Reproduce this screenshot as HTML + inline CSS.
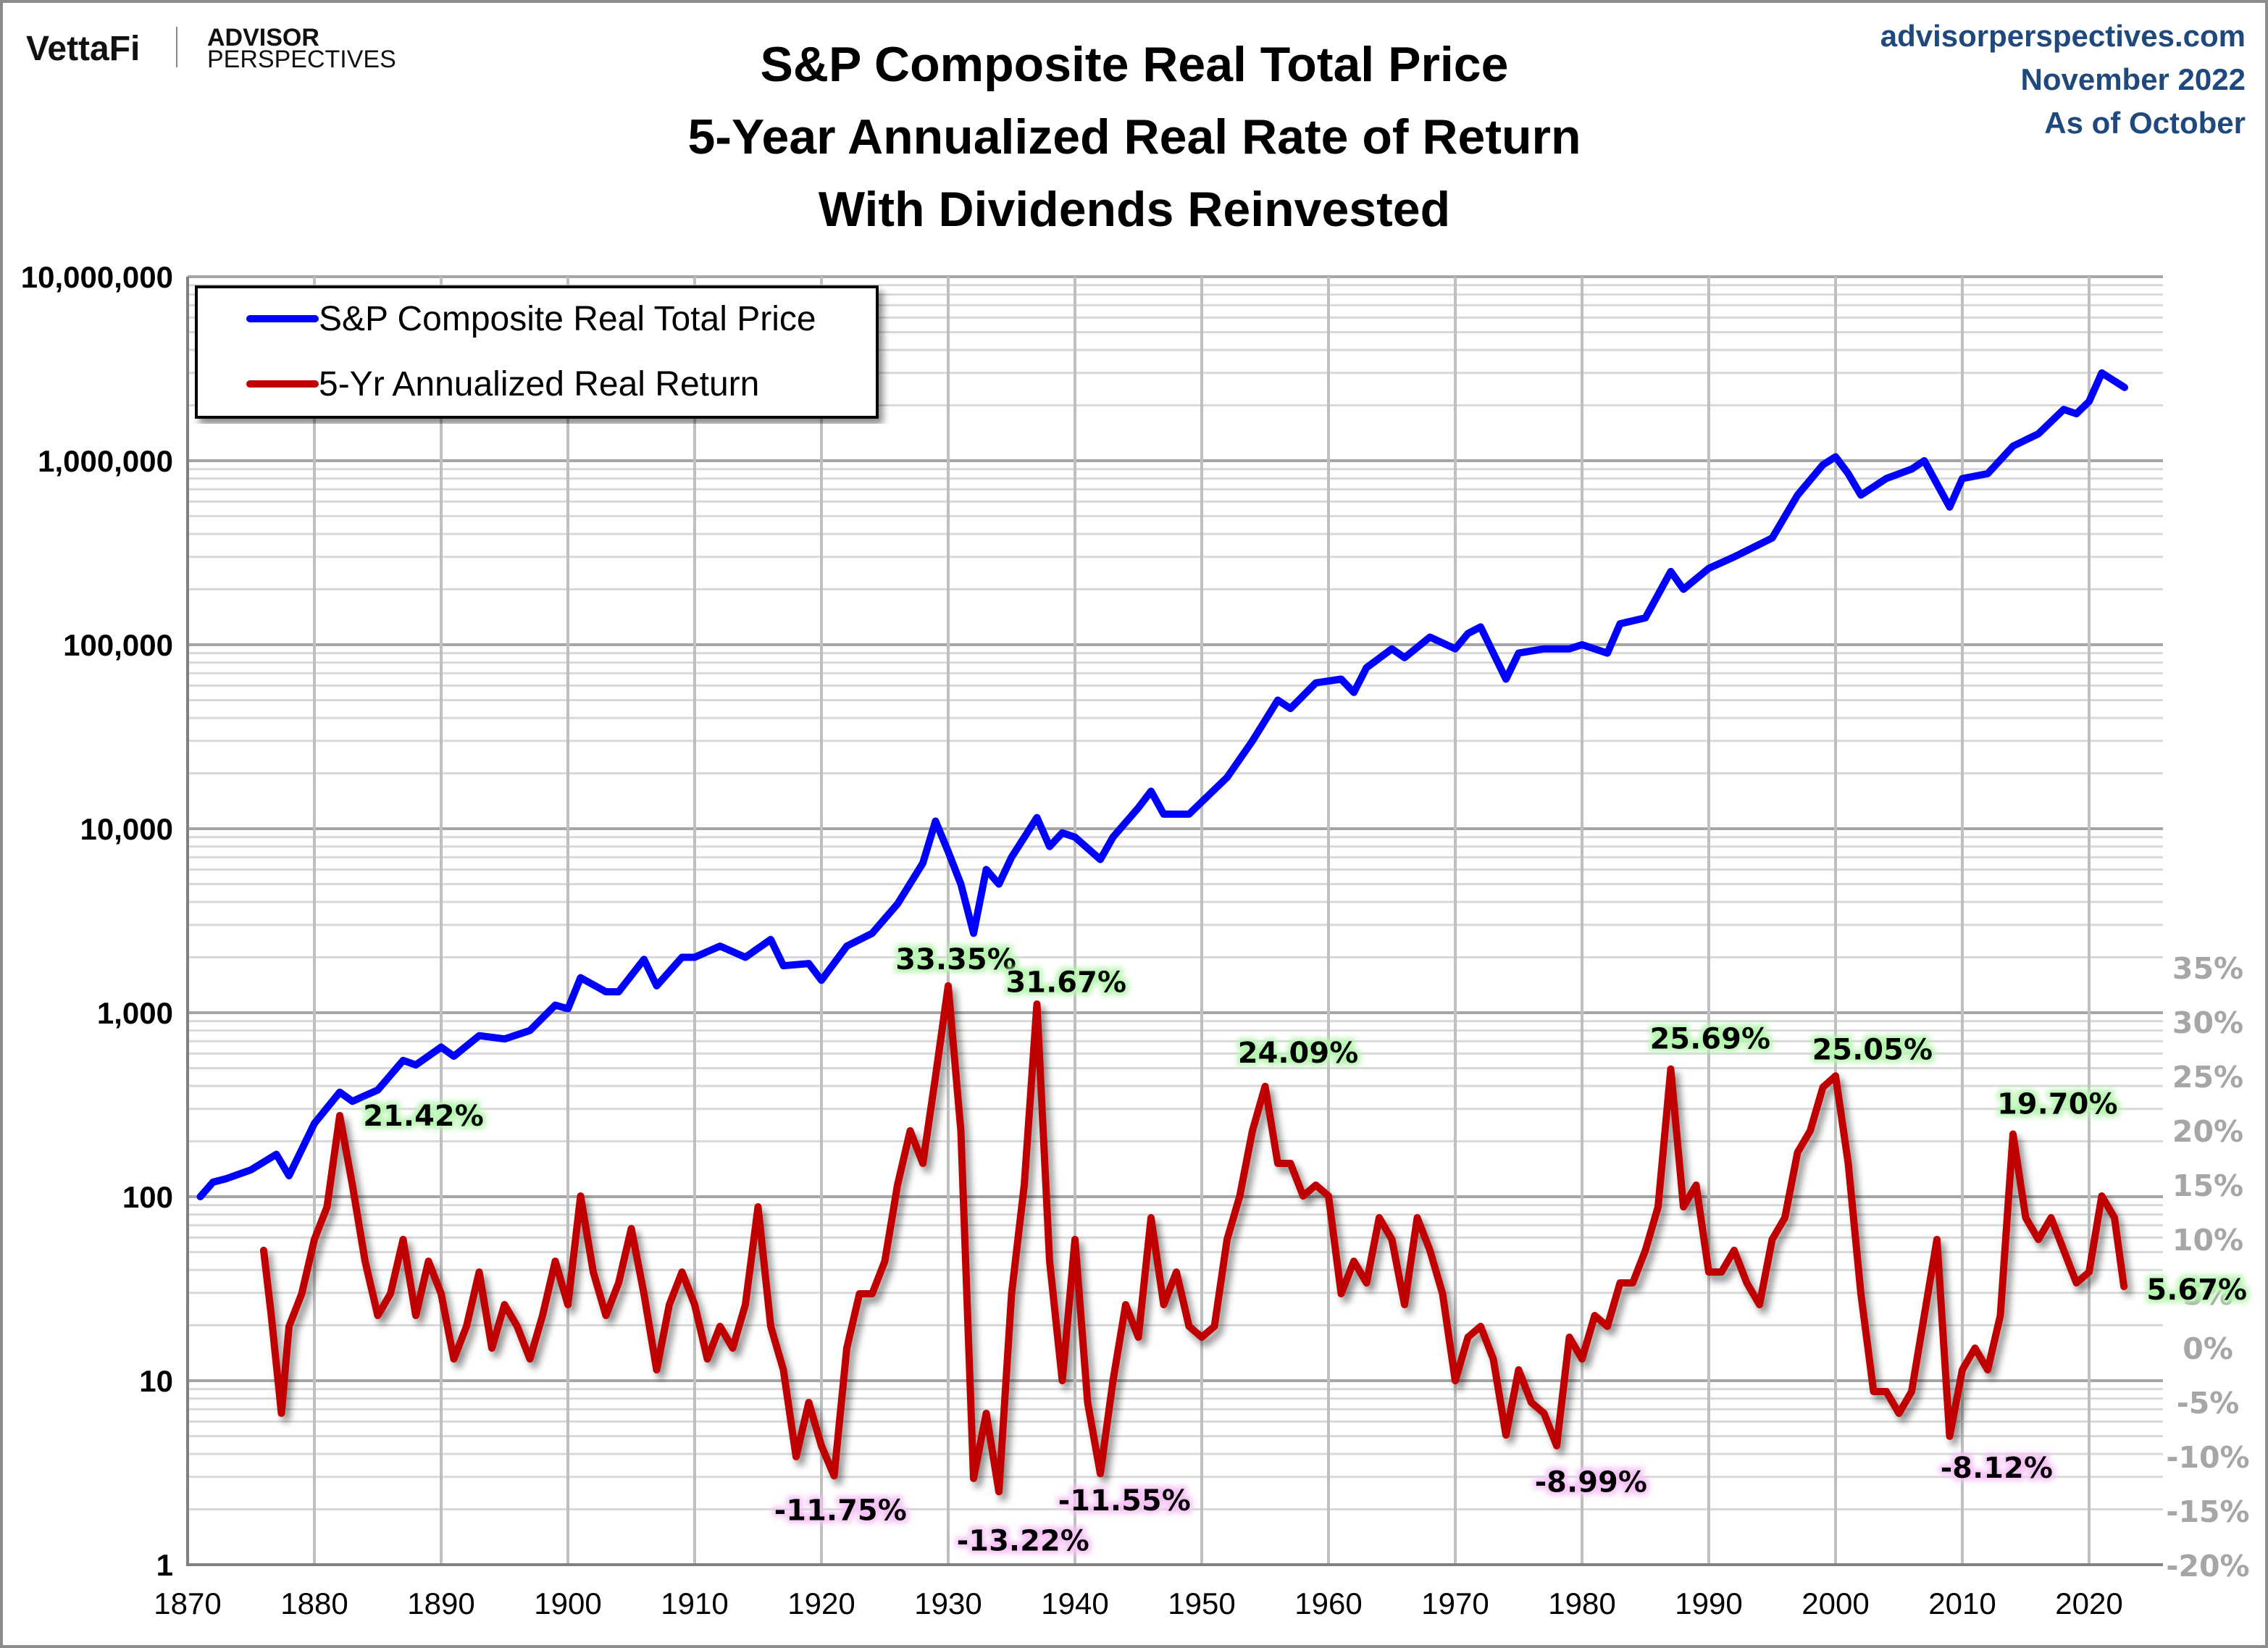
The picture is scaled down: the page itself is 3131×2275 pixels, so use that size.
<!DOCTYPE html>
<html><head><meta charset="utf-8"><style>
html,body{margin:0;padding:0;background:#fff;}
body{width:3131px;height:2275px;overflow:hidden;position:relative;font-family:"Liberation Sans",sans-serif;}
</style></head><body>
<svg id="chart" width="3131" height="2275" xmlns="http://www.w3.org/2000/svg" style="position:absolute;left:0;top:0">
<defs>
<filter id="sh" x="-5%" y="-5%" width="110%" height="110%"><feGaussianBlur in="SourceAlpha" stdDeviation="5"/><feOffset dx="6" dy="8"/><feComponentTransfer><feFuncA type="linear" slope="0.45"/></feComponentTransfer><feMerge><feMergeNode/><feMergeNode in="SourceGraphic"/></feMerge></filter>
<filter id="glowG" x="-10%" y="-30%" width="120%" height="160%"><feMorphology in="SourceAlpha" operator="dilate" radius="4" result="d"/><feGaussianBlur in="d" stdDeviation="4" result="b"/><feFlood flood-color="#b6f5b0"/><feComposite in2="b" operator="in"/><feMerge><feMergeNode/><feMergeNode in="SourceGraphic"/></feMerge></filter>
<filter id="glowP" x="-10%" y="-30%" width="120%" height="160%"><feMorphology in="SourceAlpha" operator="dilate" radius="4" result="d"/><feGaussianBlur in="d" stdDeviation="4" result="b"/><feFlood flood-color="#f5c2f5"/><feComposite in2="b" operator="in"/><feMerge><feMergeNode/><feMergeNode in="SourceGraphic"/></feMerge></filter>
</defs>
<rect x="2" y="2" width="3127" height="2271" fill="#fff" stroke="#8c8c8c" stroke-width="4"/>
<g>
<text x="36" y="83" font-family="Liberation Sans, sans-serif" font-weight="bold" font-size="48" fill="#111">VettaFi</text>
<line x1="244" y1="37" x2="244" y2="93" stroke="#888" stroke-width="2"/>
<text x="286" y="63" font-weight="bold" font-size="34" fill="#111">ADVISOR</text>
<text x="286" y="93" font-size="34" fill="#111">PERSPECTIVES</text>
</g>
<g font-family="Liberation Sans, sans-serif" font-weight="bold" font-size="68" fill="#000" text-anchor="middle">
<text x="1566" y="112">S&amp;P Composite Real Total Price</text>
<text x="1566" y="212">5-Year Annualized Real Rate of Return</text>
<text x="1566" y="312">With Dividends Reinvested</text>
</g>
<g font-family="Liberation Sans, sans-serif" font-weight="bold" font-size="42" fill="#1f497d" text-anchor="end">
<text x="3100" y="64">advisorperspectives.com</text>
<text x="3100" y="124">November 2022</text>
<text x="3100" y="184">As of October</text>
</g>
<g id="grid"></g>
<g id="axes"></g>
<g id="series"></g>
<g id="labels"></g>
<g filter="url(#sh)">
<rect x="271" y="396" width="940" height="180" fill="#fff" stroke="#000" stroke-width="4"/>
</g>
<g>
<line x1="345" y1="440" x2="435" y2="440" stroke="#0000ff" stroke-width="10" stroke-linecap="round"/>
<text x="440" y="456" font-size="48" fill="#000">S&amp;P Composite Real Total Price</text>
</g>
<g>
<line x1="345" y1="530" x2="435" y2="530" stroke="#c00000" stroke-width="10" stroke-linecap="round"/>
<text x="440" y="546" font-size="48" fill="#000">5-Yr Annualized Real Return</text>
</g>
</svg>
<script>
const priceYears=[1871,1872,1873,1875,1877,1878,1880,1882,1883,1885,1887,1888,1890,1891,1893,1895,1897,1899,1900,1901,1903,1904,1906,1907,1909,1910,1912,1914,1916,1917,1919,1920,1922,1924,1926,1928,1929,1930,1931,1932,1933,1934,1935,1937,1938,1939,1940,1942,1943,1945,1946,1947,1949,1950,1952,1954,1956,1957,1959,1961,1962,1963,1965,1966,1968,1970,1971,1972,1973,1974,1975,1977,1979,1980,1982,1983,1985,1987,1988,1990,1992,1995,1997,1999,2000,2001,2002,2004,2006,2007,2009,2010,2012,2014,2016,2018,2019,2020,2021,2022.8];
const priceValues=[100,120,125,140,170,130,250,370,330,380,550,520,650,580,750,720,800,1100,1050,1550,1300,1300,1950,1400,2000,2000,2300,2000,2500,1800,1850,1500,2300,2700,3900,6500,11000,7500,5000,2700,6000,5000,7000,11500,8000,9500,9000,6800,9000,13000,16000,12000,12000,14000,19000,30000,50000,45000,62000,65000,55000,75000,95000,85000,110000,95000,115000,125000,90000,65000,90000,95000,95000,100000,90000,130000,140000,250000,200000,260000,300000,380000,650000,950000,1050000,850000,650000,800000,900000,1000000,560000,800000,850000,1200000,1400000,1900000,1800000,2100000,3000000,2500000];
const retYears=[1876,1876.6,1877.4,1878,1879,1880,1881,1882,1883,1884,1885,1886,1887,1888,1889,1890,1891,1892,1893,1894,1895,1896,1897,1898,1899,1900,1901,1902,1903,1904,1905,1906,1907,1908,1909,1910,1911,1912,1913,1914,1915,1916,1917,1918,1919,1920,1921,1922,1923,1924,1925,1926,1927,1928,1929,1930,1931,1932,1933,1934,1935,1936,1937,1938,1939,1940,1941,1942,1943,1944,1945,1946,1947,1948,1949,1950,1951,1952,1953,1954,1955,1956,1957,1958,1959,1960,1961,1962,1963,1964,1965,1966,1967,1968,1969,1970,1971,1972,1973,1974,1975,1976,1977,1978,1979,1980,1981,1982,1983,1984,1985,1986,1987,1988,1989,1990,1991,1992,1993,1994,1995,1996,1997,1998,1999,2000,2001,2002,2003,2004,2005,2006,2007,2008,2009,2010,2011,2012,2013,2014,2015,2016,2017,2018,2019,2020,2021,2022,2022.75];
const retValues=[9,3,-6,2,5,10,13,21.4,15,8,3,5,10,3,8,5,-1,2,7,0,4,2,-1,3,8,4,14,7,3,6,11,5,-2,4,7,4,-1,2,0,4,13,2,-2,-10,-5,-9,-11.75,0,5,5,8,15,20,17,25,33.35,20,-12,-6,-13.22,5,15,31.67,8,-3,10,-5,-11.55,-3,4,1,12,4,7,2,1,2,10,14,20,24.09,17,17,14,15,14,5,8,6,12,10,4,12,9,5,-3,1,2,-1,-8,-2,-5,-6,-8.99,1,-1,3,2,6,6,9,13,25.69,13,15,7,7,9,6,4,10,12,18,20,24,25.05,17,5,-4,-4,-6,-4,3,10,-8.12,-2,0,-2,3,19.7,12,10,12,9,6,7,14,12,5.67];
const xTicks=[1870,1880,1890,1900,1910,1920,1930,1940,1950,1960,1970,1980,1990,2000,2010,2020];
const yTickLabels=["1","10","100","1,000","10,000","100,000","1,000,000","10,000,000"];
const pctTicks=[-20,-15,-10,-5,0,5,10,15,20,25,30,35];
const peakLabels=["21.42%","33.35%","31.67%","24.09%","25.69%","25.05%","19.70%","5.67%"];
const peakYears=[1888.6,1930.6,1939.3,1957.6,1990.1,2002.9,2017.5,2028.5];
const peakPcts=[21.4,35.8,33.7,27.2,28.5,27.5,22.5,5.4];
const troughLabels=["-11.75%","-13.22%","-11.55%","-8.99%","-8.12%"];
const troughYears=[1921.5,1935.9,1943.9,1980.7,2012.7];
const troughPcts=[-14.9,-17.7,-14,-12.3,-11];

const NS="http://www.w3.org/2000/svg";
const L=259,R=2986,T=382,B=2160;
const xS=y=>L+(y-1870)*(175/10);
const yLog=v=>B-Math.log10(v)*254;
const yPct=p=>1861-p*15;
function el(tag,attrs,parent){const e=document.createElementNS(NS,tag);for(const k in attrs)e.setAttribute(k,attrs[k]);parent.appendChild(e);return e;}
const grid=document.getElementById('grid'),axes=document.getElementById('axes'),series=document.getElementById('series'),labels=document.getElementById('labels');
for(let d=0;d<7;d++){for(let m=2;m<=9;m++){const l=el('line',{x1:L,x2:R,y1:yLog(m*Math.pow(10,d)),y2:yLog(m*Math.pow(10,d)),stroke:'#d9d9d9','stroke-width':3},grid);

}}
yTickLabels.forEach((t,i)=>{const y=yLog(Math.pow(10,i));
const g=el('line',{x1:L,x2:R,y1:y,y2:y,stroke:'#a6a6a6','stroke-width':4},grid);


const tx=el('text',{x:L-20,y:y+15,'text-anchor':'end','font-size':42,'font-weight':'bold',fill:'#000'},axes);tx.textContent=t;

});
xTicks.forEach(t=>{const x=xS(t);
if(t>1870){const g=el('line',{x1:x,x2:x,y1:T,y2:B,stroke:'#bfbfbf','stroke-width':4},grid);

}
const tx=el('text',{x:x,y:B+68,'text-anchor':'middle','font-size':42,fill:'#000'},axes);tx.textContent=t;

});
const ax=el('path',{d:`M${L},${T}V${B}H${R}`,fill:'none',stroke:'#808080','stroke-width':4},axes);


pctTicks.forEach(p=>{const tx=el('text',{x:3048,y:yPct(p)+15,'text-anchor':'middle','font-family':'DejaVu Sans, sans-serif','font-weight':'bold','font-size':41,fill:'#a6a6a6'},axes);tx.textContent=p+'%';

});
const dRet=retYears.map((y,i)=>(i?'L':'M')+xS(y).toFixed(1)+','+yPct(retValues[i]).toFixed(1)).join('');
const rp=el('path',{d:dRet,fill:'none',stroke:'#c00000','stroke-width':10,'stroke-linejoin':'round','stroke-linecap':'round',filter:'url(#sh)'},series);


const dP=priceYears.map((y,i)=>(i?'L':'M')+xS(y).toFixed(1)+','+yLog(priceValues[i]).toFixed(1)).join('');
const pp=el('path',{d:dP,fill:'none',stroke:'#0000ff','stroke-width':10,'stroke-linejoin':'round','stroke-linecap':'round'},series);


peakLabels.forEach((t,i)=>{const tx=el('text',{x:xS(peakYears[i]),y:yPct(peakPcts[i])+14,'text-anchor':'middle','font-family':'DejaVu Sans, sans-serif','font-weight':'bold','font-size':40,fill:'#000',filter:'url(#glowG)'},labels);tx.textContent=t;

});
troughLabels.forEach((t,i)=>{const tx=el('text',{x:xS(troughYears[i]),y:yPct(troughPcts[i])+14,'text-anchor':'middle','font-family':'DejaVu Sans, sans-serif','font-weight':'bold','font-size':40,fill:'#000',filter:'url(#glowP)'},labels);tx.textContent=t;

});
</script>
</body></html>
